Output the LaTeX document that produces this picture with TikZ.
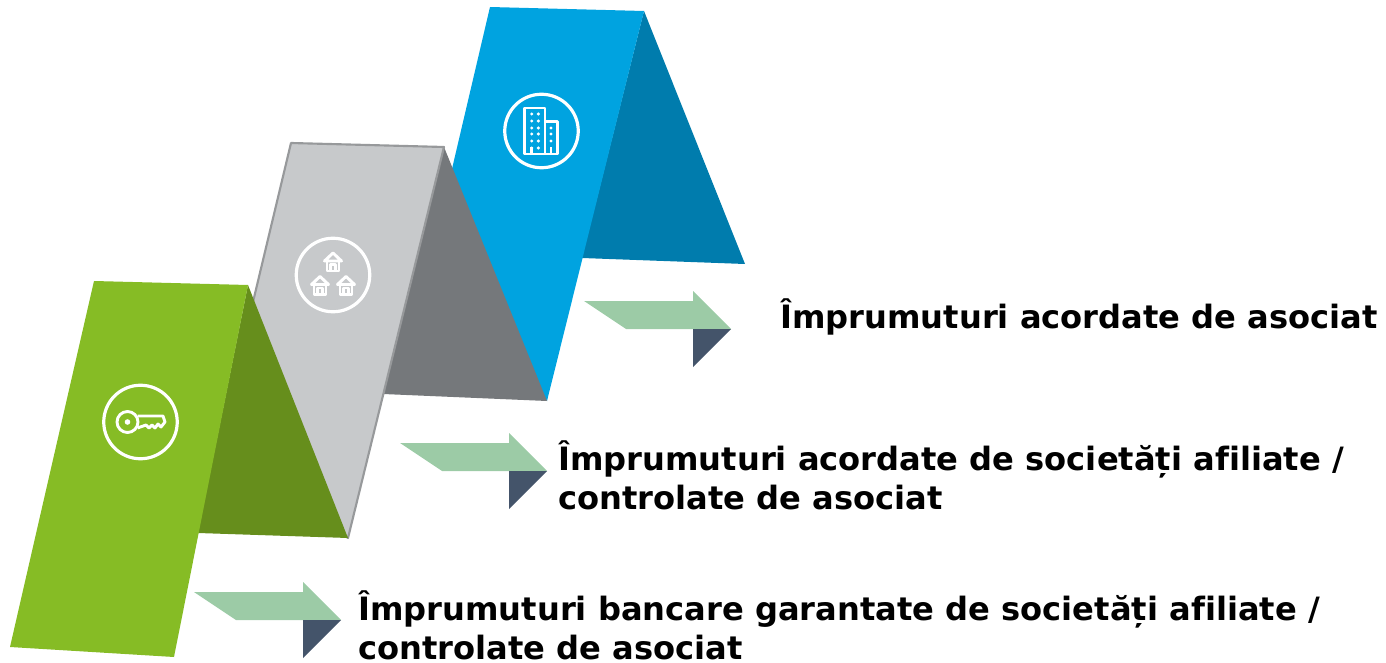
\documentclass[tikz,border=0pt]{standalone}
\usepackage{fontspec}
\setmainfont[Ligatures=NoCommon]{DejaVu Sans}
\definecolor{leafgreen}{HTML}{86BC25}
\definecolor{leafdark}{HTML}{668E1C}
\definecolor{palegray}{HTML}{C7C9CB}
\definecolor{darkgray}{HTML}{75787B}
\definecolor{edgegray}{HTML}{97999B}
\definecolor{skyblue}{HTML}{00A3E0}
\definecolor{skydark}{HTML}{007CAD}
\definecolor{arrowgreen}{HTML}{9CCBA6}
\definecolor{arrownavy}{HTML}{44546A}
\tikzset{
  label node/.style={anchor=west,align=left,inner sep=0pt,font=\bfseries\fontsize{24.1}{29}\selectfont},
  icon ring/.style={circle,draw=white,line width=2.4pt,minimum size=73.5*0.75pt,inner sep=0pt},
  icon line/.style={draw=white,line width=2.2pt,line join=round},
  pics/turn arrow/.style={code={
    \fill[arrowgreen] (-147,-28) -- (-38,-28) -- (-38,-38) -- (0,0) -- (-105,0) -- cycle;
    \fill[arrownavy] (-38,0) -- (0,0) -- (-38,38) -- cycle;
  }},
  pics/small house/.style={code={
    \draw[icon line] (-6,-2) -- (-6,8.5) -- (6,8.5) -- (6,-2);
    \draw[icon line] (-8.5,-1.5) -- (0,-9.5) -- (8.5,-1.5) -- cycle;
    \draw[icon line] (-2.5,8.5) -- (-2.5,2) -- (2.5,2) -- (2.5,8.5);
  }}
}
\begin{document}
\begin{tikzpicture}[x=0.75pt,y=-0.75pt]
    \useasboundingbox (0,0) rectangle (1386,663);

    % blue fold
    \fill[skydark] (644,11) -- (745,264) -- (582,258) -- cycle;
    \fill[skyblue] (490,7) -- (644,11) -- (547,401) -- (440,220) -- cycle;

    % gray fold
    \fill[darkgray] (444,147) -- (547,401) -- (383,394) -- cycle;
    \draw[edgegray,fill=palegray,line width=1.6pt,line join=round] (291,143) -- (444,147) -- (348,538) -- (220,440) -- cycle;

    % green fold
    \fill[leafdark] (248,285) -- (348,538) -- (198,533) -- cycle;
    \fill[leafgreen] (94,281) -- (248,285) -- (174,657) -- (10,647) -- cycle;

    \node[icon ring] (keyring) at (140.5,422) {};
    \node[icon ring] (housering) at (333,275) {};
    \node[icon ring] (buildingring) at (541.5,131) {};

    % key
    \draw[icon line] (137.5,416) -- (163,416) -- (165,422) -- (161,427) -- (158,424) -- (155,428) -- (152,425) -- (149,428) -- (146,425) -- (137.5,428);
    \fill[leafgreen] (127.5,422) circle (10.5);
    \draw[icon line] (127.5,422) circle (10.5);
    \fill[white] (127.5,422) circle (2.8);

    % houses
    \pic at (333,262.5) {small house};
    \pic at (320,286) {small house};
    \pic at (346,286) {small house};

    % building
    \draw[icon line] (524.5,154) -- (524.5,108) -- (545,108) -- (545,154) -- cycle;
    \draw[icon line] (545,121.5) -- (557.5,121.5) -- (557.5,154) -- (545,154);
    \foreach \y in {114,121,128,134,141,148} {
        \fill[white] (531.7,\y) circle (1.7);
        \fill[white] (538.3,\y) circle (1.7);
    }
    \foreach \y in {128,134,141} \fill[white] (551,\y) circle (1.7);
    \draw[icon line] (531.7,154) -- (531.7,147);
    \draw[icon line] (551,154) -- (551,147);

    \pic at (341,620) {turn arrow};
    \pic at (547,471) {turn arrow};
    \pic at (731,329) {turn arrow};

    \node[label node] (own) at (780,317) {Împrumuturi acordate de asociat};
    \node[label node] (affiliate) at (558,475) {Împrumuturi acordate de societăți afiliate /\\controlate de asociat};
    \node[label node] (bank) at (358,625.5) {Împrumuturi bancare garantate de societăți afiliate /\\controlate de asociat};
\end{tikzpicture}
\end{document}
